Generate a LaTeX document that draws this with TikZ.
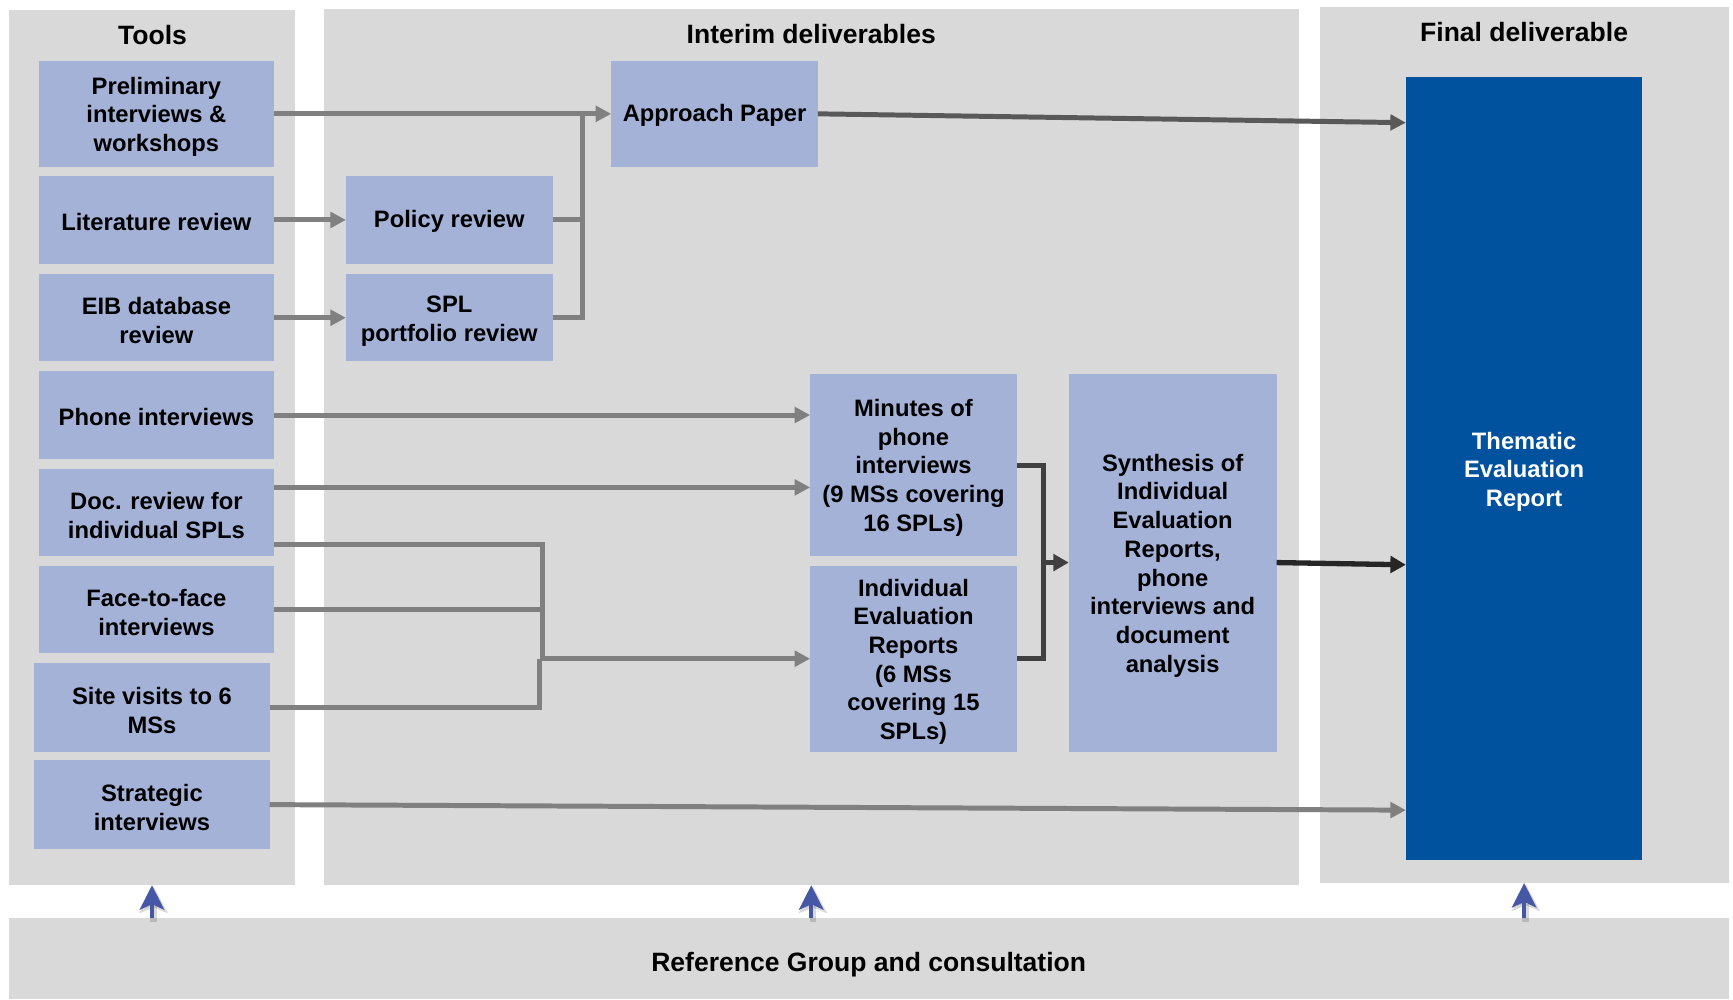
\documentclass[tikz,border=0pt]{standalone}
\usepackage{fontspec}
\setmainfont{Liberation Sans}
\usetikzlibrary{arrows.meta,calc}
\definecolor{panelgray}{RGB}{217,217,217}
\definecolor{boxblue}{RGB}{164,178,216}
\definecolor{reportblue}{RGB}{0,82,158}
\definecolor{linegray}{RGB}{128,128,128}
\definecolor{linedark}{RGB}{89,89,89}
\definecolor{linedarker}{RGB}{64,64,64}
\definecolor{linedarkest}{RGB}{38,38,38}
\definecolor{upblue}{RGB}{70,88,165}
\newcommand\lblfont{\fontsize{21.5}{26}\selectfont\bfseries}
\newcommand\ttlfont{\fontsize{24}{28}\selectfont\bfseries}
% struts that lower the first line of a label a little
\newcommand\firststrut{\rule{0pt}{21pt}}
\newcommand\onestrut{\rule{0pt}{18.7pt}}
\begin{document}
\begin{tikzpicture}[x=1pt,y=-1pt,
  panel/.style={fill=panelgray,inner sep=0pt,outer sep=0pt},
  stepbox/.style={fill=boxblue,inner sep=0pt,outer sep=0pt,align=center,font=\lblfont},
  ttl/.style={font=\ttlfont,inner sep=0pt},
  gline/.style={draw=linegray,line width=4.5pt},
  garrow/.style={gline,-{Triangle[length=14pt,width=14pt]}},
  dline/.style={draw=linedarker,line width=4.8pt},
  uparrow/.style={draw=upblue,line width=3.8pt,-{Stealth[length=22pt,width=22pt,inset=5pt]}},
  upshadow/.style={draw=black,opacity=0.15,line width=6pt,-{Stealth[length=24pt,width=25pt,inset=5pt]}}]
\useasboundingbox (0,0) rectangle (1568,904);
\fill[white] (0,0) rectangle (1568,904);

% column panels and the consultation bar
\node[panel,minimum width=259pt,minimum height=792pt] (tools) at (137.5,405) {};
\node[panel,minimum width=882pt,minimum height=793pt] (interim) at (734,404.5) {};
\node[panel,minimum width=370pt,minimum height=793pt] (final) at (1379,402.5) {};
\node[panel,minimum width=1556pt,minimum height=73pt,font=\ttlfont] (bar) at (786,867.5) {\rule{0pt}{27.5pt}Reference Group and consultation};

\node[ttl] (t1) at (138,32) {Tools};
\node[ttl] (t2) at (734,31) {Interim deliverables};
\node[ttl] (t3) at (1379,29) {Final deliverable};

% tools
\node[stepbox,minimum width=213pt,minimum height=96pt] (prelim) at (141.5,103) {\firststrut Preliminary\\interviews \&\\workshops};
\node[stepbox,minimum width=213pt,minimum height=80pt] (lit) at (141.5,199) {\onestrut Literature review};
\node[stepbox,minimum width=213pt,minimum height=79pt] (eib) at (141.5,287.5) {\firststrut EIB database\\review};
\node[stepbox,minimum width=213pt,minimum height=79pt] (phone) at (141.5,375.5) {\onestrut Phone interviews};
\node[stepbox,minimum width=213pt,minimum height=79pt] (doc) at (141.5,463.5) {\firststrut Doc. review for\\individual SPLs};
\node[stepbox,minimum width=213pt,minimum height=79pt] (face) at (141.5,551.5) {\firststrut Face-to-face\\interviews};
\node[stepbox,minimum width=213pt,minimum height=80pt] (site) at (137.5,640) {\firststrut Site visits to 6\\MSs};
\node[stepbox,minimum width=213pt,minimum height=80pt] (strat) at (137.5,728) {\firststrut Strategic\\interviews};

% interim deliverables
\node[stepbox,minimum width=187pt,minimum height=80pt] (policy) at (406.5,199) {\onestrut Policy review};
\node[stepbox,minimum width=187pt,minimum height=79pt] (spl) at (406.5,287.5) {\firststrut SPL\\portfolio review};
\node[stepbox,minimum width=187pt,minimum height=96pt] (approach) at (646.5,103) {\onestrut Approach Paper};
\node[stepbox,minimum width=187pt,minimum height=165pt] (minutes) at (826.5,420.5) {\firststrut Minutes of\\phone\\interviews\\(9 MSs covering\\16 SPLs)};
\node[stepbox,minimum width=187pt,minimum height=168pt] (ier) at (826.5,596) {\firststrut Individual\\Evaluation\\Reports\\(6 MSs\\covering 15\\SPLs)};
\node[stepbox,minimum width=188pt,minimum height=342pt] (synth) at (1061,509) {\firststrut Synthesis of\\Individual\\Evaluation\\Reports,\\phone\\interviews and\\document\\analysis};

% final deliverable
\node[stepbox,fill=reportblue,text=white,minimum width=214pt,minimum height=708pt] (report) at (1379,424) {\firststrut Thematic\\Evaluation\\Report};

% junction points
\coordinate (jA) at (527,103);
\coordinate (jB) at (491,493);
\coordinate (jD) at (491,596);
\coordinate (jD2) at (488.5,596);
\coordinate (jC) at (488.5,640);
\coordinate (jE) at (944,421);
\coordinate (jF) at (944,596);
\coordinate (jG) at (944,509);

% connectors into the approach paper
\draw[garrow] (prelim.east) -- (approach.west);
\draw[garrow] (lit.east) -- (policy.west);
\draw[garrow] (eib.east) -- (spl.west);
\draw[gline] (policy.east) -- (policy.east -| jA);
\draw[gline] (spl.east) -| (jA);
\draw[draw=linedark,line width=4.5pt,-{Triangle[length=14pt,width=14pt]}] (approach.east) -- ([yshift=-41pt]report.north west);

% connectors into the interim reports
\draw[garrow] (phone.east) -- (phone.east -| minutes.west);
\draw[garrow] ([yshift=22.5pt]doc.east) -- ([yshift=22.5pt]doc.east -| minutes.west);
\draw[gline] ([yshift=-29.5pt]doc.east) -- (jB) -- (jD);
\draw[gline] (face.east) -- (face.east -| jD2);
\draw[gline] (site.east) -- (jC) -- (jD2);
\draw[garrow] (jD2) -- (ier.west);

% synthesis
\draw[dline] (minutes.east |- jE) -- (jE) -- (jF) -- (ier.east);
\draw[dline,-{Triangle[length=14pt,width=15pt]}] (jG) -- (synth.west);
\draw[draw=linedarkest,line width=4.8pt,-{Triangle[length=14pt,width=15pt]}] (synth.east) -- ([yshift=-87pt]report.west);
\draw[garrow] (strat.east) -- ([yshift=-309pt]report.west);

% consultation arrows
\foreach \p in {tools,interim,final}{
  \draw[upshadow] ([xshift=1.5pt,yshift=-3pt]bar.north -| \p.south) -- ([xshift=1.5pt,yshift=-1pt]\p.south);
  \draw[uparrow] (bar.north -| \p.south) -- (\p.south);
}
\end{tikzpicture}
\end{document}
